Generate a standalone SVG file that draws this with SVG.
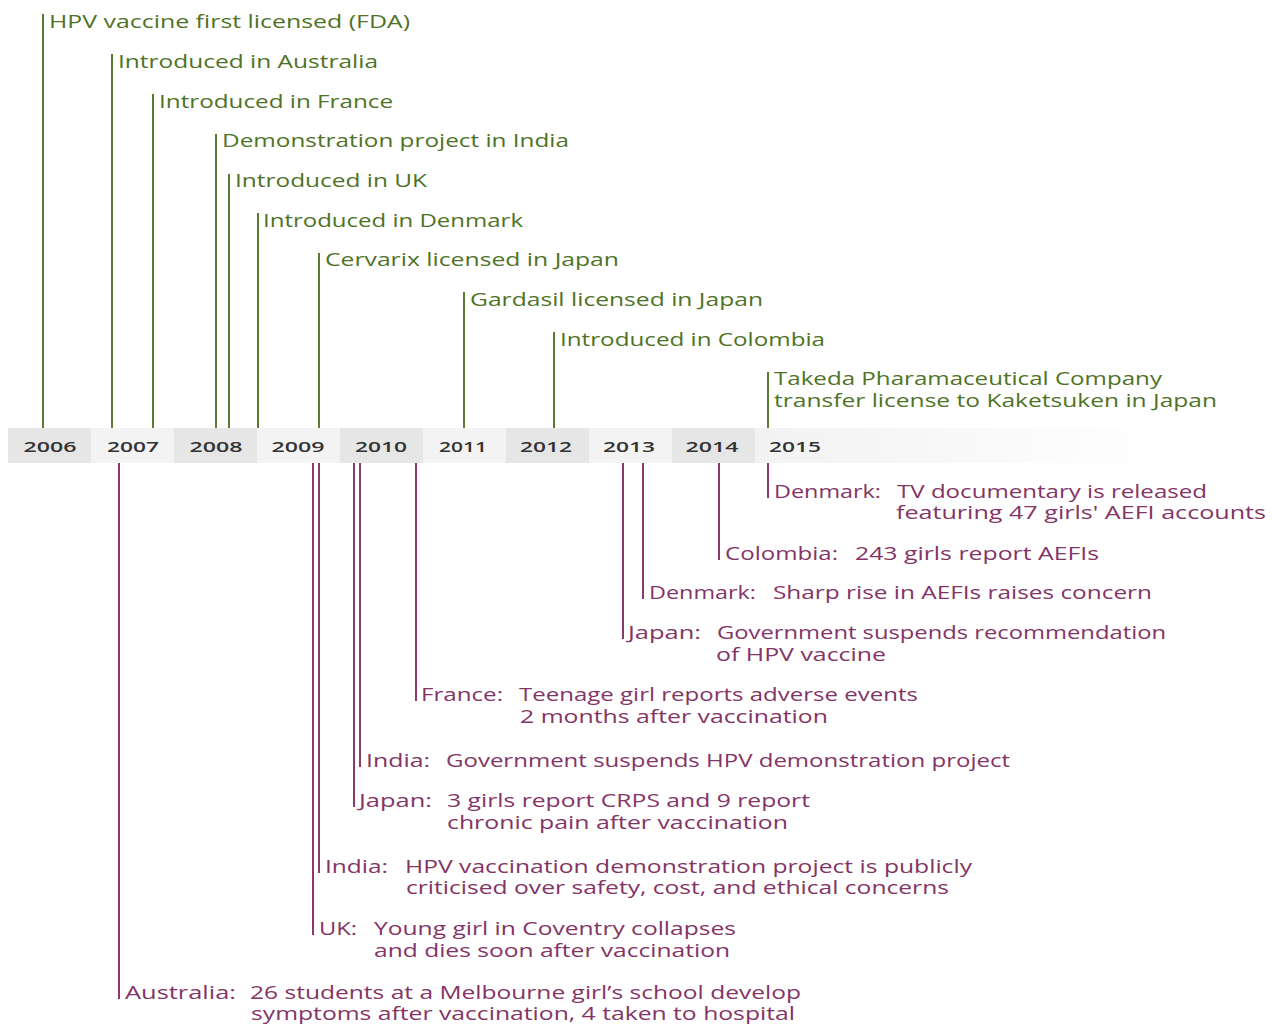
<svg xmlns="http://www.w3.org/2000/svg" width="1272" height="1024" viewBox="0 0 1272 1024">
<defs>
<linearGradient id="fade" x1="0" y1="0" x2="1" y2="0">
<stop offset="0" stop-color="#f2f2f2"/>
<stop offset="1" stop-color="#ffffff"/>
</linearGradient>
<style>
.g{stroke:#5b7b32;stroke-width:2;fill:none}
.p{stroke:#8c3a6c;stroke-width:2;fill:none}
.gt{font-family:"Open Sans","Noto Sans",sans-serif;font-size:18px;fill:#4f7326}
.pt{font-family:"Open Sans","Noto Sans",sans-serif;font-size:18px;fill:#843466}
.yr{font-family:"Open Sans","Noto Sans",sans-serif;font-size:15px;font-weight:600;fill:#333333;text-anchor:middle}
.dk{fill:#e6e6e6}
.lt{fill:#f3f3f3}
</style>
</defs>
<rect width="1272" height="1024" fill="#ffffff"/>
<g id="year-bar">
<rect class="dk" x="8" y="428" width="83" height="35"/>
<rect class="lt" x="91" y="428" width="83" height="35"/>
<rect class="dk" x="174" y="428" width="83" height="35"/>
<rect class="lt" x="257" y="428" width="83" height="35"/>
<rect class="dk" x="340" y="428" width="83" height="35"/>
<rect class="lt" x="423" y="428" width="83" height="35"/>
<rect class="dk" x="506" y="428" width="83" height="35"/>
<rect class="lt" x="589" y="428" width="83" height="35"/>
<rect class="dk" x="672" y="428" width="83" height="35"/>
<rect x="755" y="428" width="410" height="35" fill="url(#fade)"/>
<text class="yr" x="50" y="452" textLength="53" lengthAdjust="spacingAndGlyphs">2006</text>
<text class="yr" x="133" y="452" textLength="52" lengthAdjust="spacingAndGlyphs">2007</text>
<text class="yr" x="216" y="452" textLength="53" lengthAdjust="spacingAndGlyphs">2008</text>
<text class="yr" x="298" y="452" textLength="53" lengthAdjust="spacingAndGlyphs">2009</text>
<text class="yr" x="381" y="452" textLength="52" lengthAdjust="spacingAndGlyphs">2010</text>
<text class="yr" x="463" y="452" textLength="48" lengthAdjust="spacingAndGlyphs">2011</text>
<text class="yr" x="546" y="452" textLength="52" lengthAdjust="spacingAndGlyphs">2012</text>
<text class="yr" x="629" y="452" textLength="52" lengthAdjust="spacingAndGlyphs">2013</text>
<text class="yr" x="712" y="452" textLength="53" lengthAdjust="spacingAndGlyphs">2014</text>
<text class="yr" x="795" y="452" textLength="52" lengthAdjust="spacingAndGlyphs">2015</text>
</g>
<g id="connectors">
<line class="g" x1="43" y1="14" x2="43" y2="428"/>
<line class="g" x1="112" y1="54" x2="112" y2="428"/>
<line class="g" x1="153" y1="94" x2="153" y2="428"/>
<line class="g" x1="216" y1="134" x2="216" y2="428"/>
<line class="g" x1="229" y1="174" x2="229" y2="428"/>
<line class="g" x1="258" y1="213" x2="258" y2="428"/>
<line class="g" x1="319" y1="253" x2="319" y2="428"/>
<line class="g" x1="464" y1="292" x2="464" y2="428"/>
<line class="g" x1="554" y1="332" x2="554" y2="428"/>
<line class="g" x1="768" y1="372" x2="768" y2="428"/>
<line class="p" x1="119" y1="463" x2="119" y2="999"/>
<line class="p" x1="313" y1="463" x2="313" y2="935"/>
<line class="p" x1="319" y1="463" x2="319" y2="873"/>
<line class="p" x1="354" y1="463" x2="354" y2="807"/>
<line class="p" x1="360" y1="463" x2="360" y2="767"/>
<line class="p" x1="416" y1="463" x2="416" y2="701"/>
<line class="p" x1="623" y1="463" x2="623" y2="639"/>
<line class="p" x1="643" y1="463" x2="643" y2="599"/>
<line class="p" x1="719" y1="463" x2="719" y2="560"/>
<line class="p" x1="768" y1="463" x2="768" y2="498"/>
</g>
<g id="e2006-fda"><text class="gt" x="49" y="28" textLength="361" lengthAdjust="spacingAndGlyphs">HPV vaccine first licensed (FDA)</text></g>
<g id="e2007-australia"><text class="gt" x="118" y="68" textLength="260" lengthAdjust="spacingAndGlyphs">Introduced in Australia</text></g>
<g id="e2007-france"><text class="gt" x="159" y="108" textLength="234" lengthAdjust="spacingAndGlyphs">Introduced in France</text></g>
<g id="e2008-india"><text class="gt" x="222" y="147" textLength="347" lengthAdjust="spacingAndGlyphs">Demonstration project in India</text></g>
<g id="e2008-uk"><text class="gt" x="235" y="187" textLength="192" lengthAdjust="spacingAndGlyphs">Introduced in UK</text></g>
<g id="e2009-denmark"><text class="gt" x="263" y="227" textLength="260" lengthAdjust="spacingAndGlyphs">Introduced in Denmark</text></g>
<g id="e2009-cervarix"><text class="gt" x="325" y="266" textLength="294" lengthAdjust="spacingAndGlyphs">Cervarix licensed in Japan</text></g>
<g id="e2011-gardasil"><text class="gt" x="470" y="306" textLength="293" lengthAdjust="spacingAndGlyphs">Gardasil licensed in Japan</text></g>
<g id="e2012-colombia"><text class="gt" x="560" y="346" textLength="265" lengthAdjust="spacingAndGlyphs">Introduced in Colombia</text></g>
<g id="e2015-takeda">
<text class="gt" x="774" y="385" textLength="388" lengthAdjust="spacingAndGlyphs">Takeda Pharamaceutical Company</text>
<text class="gt" x="774" y="407" textLength="443" lengthAdjust="spacingAndGlyphs">transfer license to Kaketsuken in Japan</text>
</g>
<g id="a2015-denmark">
<text class="pt" x="774" y="498" textLength="107" lengthAdjust="spacingAndGlyphs">Denmark:</text>
<text class="pt" x="897" y="498" textLength="310" lengthAdjust="spacingAndGlyphs">TV documentary is released</text>
<text class="pt" x="896" y="519" textLength="370" lengthAdjust="spacingAndGlyphs">featuring 47 girls' AEFI accounts</text>
</g>
<g id="a2014-colombia">
<text class="pt" x="725" y="560" textLength="113" lengthAdjust="spacingAndGlyphs">Colombia:</text>
<text class="pt" x="855" y="560" textLength="244" lengthAdjust="spacingAndGlyphs">243 girls report AEFIs</text>
</g>
<g id="a2013-denmark">
<text class="pt" x="649" y="599" textLength="107" lengthAdjust="spacingAndGlyphs">Denmark:</text>
<text class="pt" x="773" y="599" textLength="379" lengthAdjust="spacingAndGlyphs">Sharp rise in AEFIs raises concern</text>
</g>
<g id="a2013-japan">
<text class="pt" x="628" y="639" textLength="73" lengthAdjust="spacingAndGlyphs">Japan:</text>
<text class="pt" x="717" y="639" textLength="449" lengthAdjust="spacingAndGlyphs">Government suspends recommendation</text>
<text class="pt" x="716" y="661" textLength="170" lengthAdjust="spacingAndGlyphs">of HPV vaccine</text>
</g>
<g id="a2010-france">
<text class="pt" x="421" y="701" textLength="82" lengthAdjust="spacingAndGlyphs">France:</text>
<text class="pt" x="519" y="701" textLength="399" lengthAdjust="spacingAndGlyphs">Teenage girl reports adverse events</text>
<text class="pt" x="520" y="723" textLength="308" lengthAdjust="spacingAndGlyphs">2 months after vaccination</text>
</g>
<g id="a2010-india">
<text class="pt" x="366" y="767" textLength="64" lengthAdjust="spacingAndGlyphs">India:</text>
<text class="pt" x="446" y="767" textLength="564" lengthAdjust="spacingAndGlyphs">Government suspends HPV demonstration project</text>
</g>
<g id="a2010-japan">
<text class="pt" x="359" y="807" textLength="73" lengthAdjust="spacingAndGlyphs">Japan:</text>
<text class="pt" x="447" y="807" textLength="363" lengthAdjust="spacingAndGlyphs">3 girls report CRPS and 9 report</text>
<text class="pt" x="447" y="829" textLength="341" lengthAdjust="spacingAndGlyphs">chronic pain after vaccination</text>
</g>
<g id="a2009-india">
<text class="pt" x="325" y="873" textLength="63" lengthAdjust="spacingAndGlyphs">India:</text>
<text class="pt" x="405" y="873" textLength="567" lengthAdjust="spacingAndGlyphs">HPV vaccination demonstration project is publicly</text>
<text class="pt" x="406" y="894" textLength="543" lengthAdjust="spacingAndGlyphs">criticised over safety, cost, and ethical concerns</text>
</g>
<g id="a2009-uk">
<text class="pt" x="319" y="935" textLength="38" lengthAdjust="spacingAndGlyphs">UK:</text>
<text class="pt" x="374" y="935" textLength="362" lengthAdjust="spacingAndGlyphs">Young girl in Coventry collapses</text>
<text class="pt" x="374" y="957" textLength="356" lengthAdjust="spacingAndGlyphs">and dies soon after vaccination</text>
</g>
<g id="a2007-australia">
<text class="pt" x="125" y="999" textLength="111" lengthAdjust="spacingAndGlyphs">Australia:</text>
<text class="pt" x="250" y="999" textLength="551" lengthAdjust="spacingAndGlyphs">26 students at a Melbourne girl’s school develop</text>
<text class="pt" x="251" y="1020" textLength="544" lengthAdjust="spacingAndGlyphs">symptoms after vaccination, 4 taken to hospital</text>
</g>
</svg>
